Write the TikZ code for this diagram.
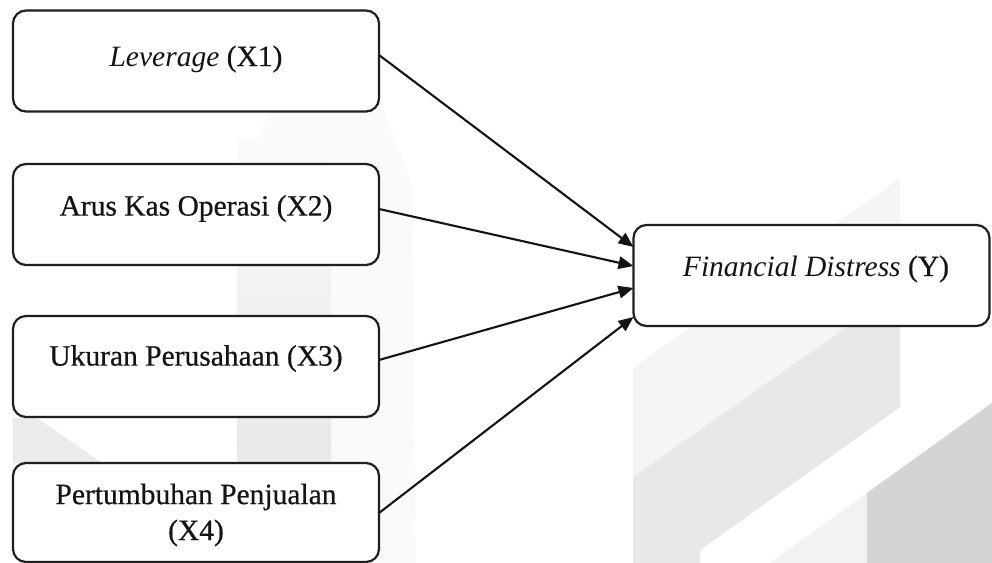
\documentclass[tikz,border=0pt]{standalone}
\usepackage{fontspec}
\setmainfont{Liberation Serif}[UprightFeatures={FakeBold=0.5}]
\usetikzlibrary{arrows.meta}
\begin{document}
\begin{tikzpicture}[x=1bp,y=-1bp,
  box/.style={draw=black!88, line width=2.2bp, rounded corners=13bp, fill=white, inner sep=0pt, outer sep=0pt},
  lbl/.style={font=\fontsize{29.5bp}{36bp}\selectfont, inner sep=0pt, align=center, text=black!92},
  conn/.style={line width=2.1bp, draw=black!92, -{Triangle[length=15bp,width=12.5bp]}},
  wm/.style={draw=none}]
\useasboundingbox (0,0) rectangle (992,563);
% faint watermark
\fill[wm, black!2] (245,185) -- (268,112) -- (385,112) -- (412,185) -- (416,563) -- (240,563) -- cycle;
\shade[wm, top color=black!2, bottom color=black!11] (237,140) rectangle (331,563);
\fill[wm, black!8] (13,418) -- (37,418) -- (102,463) -- (13,463) -- cycle;
\fill[wm, black!4] (633,368) -- (900,178) -- (900,407) -- (700,550) -- (700,563) -- (633,563) -- cycle;
\fill[wm, black!9] (633,477) -- (900,290) -- (900,407) -- (700,550) -- (700,563) -- (633,563) -- cycle;
\fill[wm, black!17] (867,493) -- (992,403) -- (992,563) -- (867,563) -- cycle;
\fill[wm, black!5] (770,563) -- (867,493) -- (867,563) -- cycle;
% boxes
\node[box, minimum width=366bp, minimum height=101bp] (b1) at (196,61) {};
\node[box, minimum width=366bp, minimum height=101bp] (b2) at (196,214.5) {};
\node[box, minimum width=366bp, minimum height=101bp] (b3) at (196,366.5) {};
\node[box, minimum width=366bp, minimum height=99bp] (b4) at (196,512.5) {};
\node[box, minimum width=356bp, minimum height=101bp] (y) at (811.5,275.5) {};
% labels
\node[lbl] (t1) at (196,59) {\textit{Leverage} (X1)};
\node[lbl] (t2) at (196,208.5) {Arus Kas Operasi (X2)};
\node[lbl] (t3) at (196,358.5) {Ukuran Perusahaan (X3)};
\node[lbl] (t4) at (196,515) {Pertumbuhan Penjualan\\(X4)};
\node[lbl] (ty) at (816,269) {\textit{Financial Distress} (Y)};
% connectors
\draw[conn] ([yshift=6bp]b1.east) -- ([yshift=28.5bp]y.west);
\draw[conn] ([yshift=5.5bp]b2.east) -- ([yshift=9.5bp]y.west);
\draw[conn] ([yshift=6.5bp]b3.east) -- ([yshift=-12.5bp]y.west);
\draw[conn] ([yshift=-0.5bp]b4.east) -- ([yshift=-41.5bp]y.west);
\end{tikzpicture}
\end{document}
